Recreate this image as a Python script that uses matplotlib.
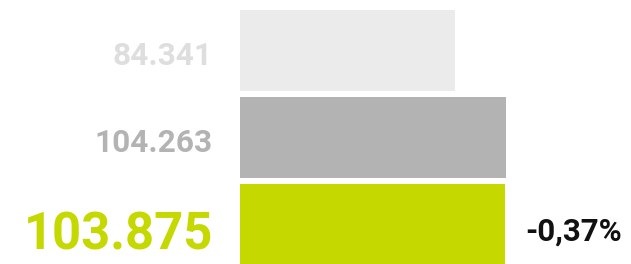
import matplotlib

matplotlib.use("Agg")
import matplotlib.pyplot as plt

plt.rcParams["font.family"] = ["Roboto", "DejaVu Sans"]

values = [84.341, 104.263, 103.875]
labels = ["84.341", "104.263", "103.875"]
bar_colors = ["#ebebeb", "#b3b3b3", "#c5d800"]
text_colors = ["#dedede", "#b3b3b3", "#c5d800"]
change_label = "-0,37%"

W, H = 631, 264
fig = plt.figure(figsize=(W / 100, H / 100), dpi=100)
x0 = 240
ax = fig.add_axes([x0 / W, 0, (W - x0) / W, 1])
px_per_unit = 2.555
ax.set_xlim(0, (W - x0) / px_per_unit)
step = 87.0
ax.set_ylim((H - 50.5) / step, -50.5 / step)
ax.axis("off")

ypos = list(range(len(values)))
ax.barh(ypos, values, height=81 / step, color=bar_colors, linewidth=0)

sizes = [22.8, 22.8, 36.5]
base_off = [14.5, 15.0, 25.4]  # px below bar centre
for y, lab, c, fs, off in zip(ypos, labels, text_colors, sizes, base_off):
    ax.annotate(lab, xy=(0, y), xytext=(-27 * 0.72, -off * 0.72),
                textcoords="offset points", ha="right", va="baseline",
                fontsize=fs, fontweight="bold", color=c,
                annotation_clip=False)

ax.annotate(change_label, xy=(values[2], ypos[2]), xytext=(19.5 * 0.72, -16 * 0.72),
            textcoords="offset points", ha="left", va="baseline",
            fontsize=22.5, fontweight="bold", color="#111111",
            annotation_clip=False)

fig.savefig("out.png", dpi=100)
